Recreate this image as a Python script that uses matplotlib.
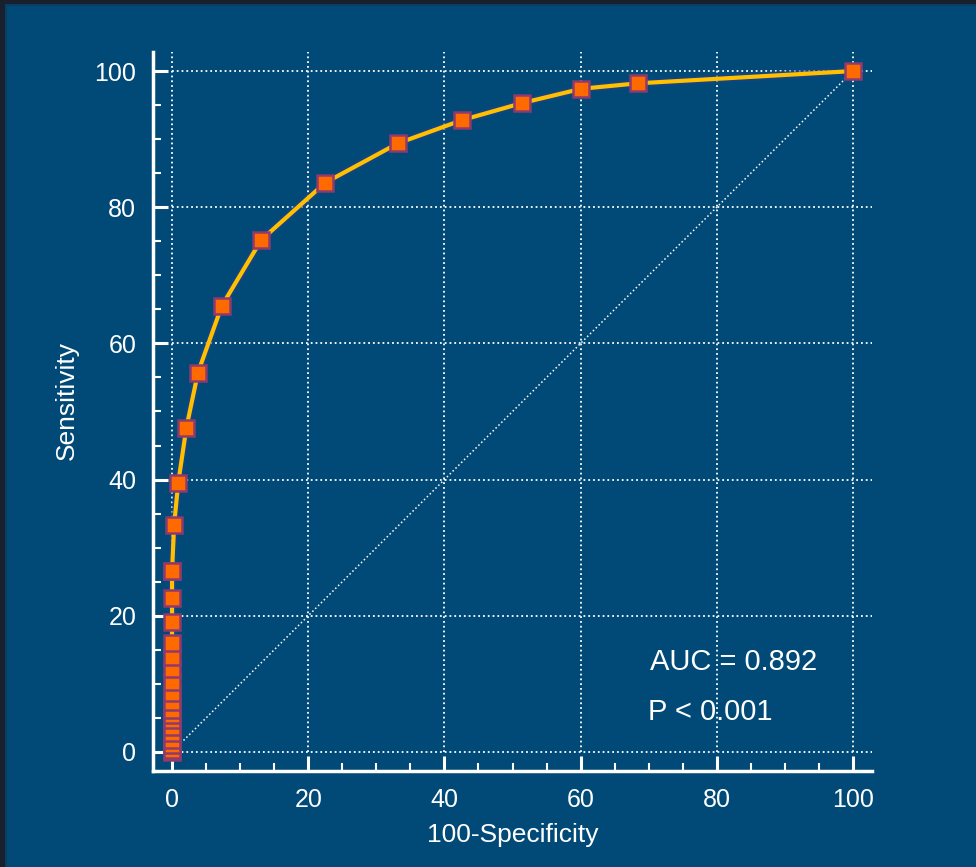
import matplotlib
matplotlib.use('Agg')
import matplotlib.pyplot as plt
from matplotlib.patches import Rectangle
from matplotlib.ticker import MultipleLocator

plt.rcParams['font.family'] = ['Liberation Sans', 'DejaVu Sans']

# ROC points (100-Specificity, Sensitivity)
fpr = [0, 0, 0, 0, 0, 0, 0, 0, 0, 0, 0, 0, 0, 0, 0, 0, 0, 0, 0,
       0.3, 0.9, 2.1, 3.8, 7.3, 13.1, 22.5, 33.2, 42.6, 51.4, 60.1, 68.4, 100]
tpr = [0, 0.3, 1.0, 1.8, 2.8, 3.7, 4.7, 5.4, 6.2, 7.3, 8.7, 10.3, 12.2, 14.0,
       16.0, 19.1, 22.6, 26.6, 26.6,
       33.3, 39.5, 47.6, 55.7, 65.5, 75.2, 83.6, 89.4, 92.8, 95.3, 97.4, 98.2, 100]
auc_text = 'AUC = 0.892'
p_text = 'P < 0.001'

panel = '#014a77'
fig = plt.figure(figsize=(9.76, 8.67), dpi=100, facecolor='#17202c')
fig.add_artist(Rectangle((5/976, 0), 1, 863/867, transform=fig.transFigure,
                         facecolor='#0b3d63', edgecolor='none', zorder=-20))
fig.add_artist(Rectangle((7/976, 0), 1, 861/867, transform=fig.transFigure,
                         facecolor=panel, edgecolor='none', zorder=-19))

ax = fig.add_axes([153/976, 96/867, 719/976, 719/867])
ax.set_facecolor('none')
ax.set_xlim(-2.8, 102.8)
ax.set_ylim(-2.8, 102.8)

# grid lines (dotted) starting at the origin
for v in range(0, 101, 20):
    ax.plot([v, v], [0, 102.8], color='white', ls=':', lw=1.3, zorder=1)
    ax.plot([0, 102.8], [v, v], color='white', ls=':', lw=1.3, zorder=1)
ax.plot([0, 100], [0, 100], color='white', ls=':', lw=1.1, zorder=1)

# ROC curve
ax.plot(fpr, tpr, '-', color='#1f3f8a', lw=6, alpha=0.6, zorder=2)
ax.plot(fpr, tpr, '-', color='#ffc000', lw=3, zorder=3)
ax.plot(fpr, tpr, 's', color='#ff6a00', markersize=12, markeredgecolor='#8e3a6e',
        markeredgewidth=1.8, zorder=4, clip_on=False)

ax.text(70.2, 13.2, auc_text, color='white', fontsize=21, va='center')
ax.text(69.9, 5.9, p_text, color='white', fontsize=21, va='center')

for s in ['top', 'right']:
    ax.spines[s].set_visible(False)
for s in ['left', 'bottom']:
    ax.spines[s].set_color('white')
    ax.spines[s].set_linewidth(2.5)

ax.xaxis.set_major_locator(MultipleLocator(20))
ax.yaxis.set_major_locator(MultipleLocator(20))
ax.xaxis.set_minor_locator(MultipleLocator(5))
ax.yaxis.set_minor_locator(MultipleLocator(5))
ax.tick_params(which='major', direction='in', length=11, width=2.2, colors='white',
               labelsize=18, pad=12)
ax.tick_params(which='minor', direction='in', length=6, width=1.5, colors='white')

ax.set_xlabel('100-Specificity', color='white', fontsize=19, labelpad=8)
ax.set_ylabel('Sensitivity', color='white', fontsize=19)
ax.yaxis.set_label_coords(-0.103, 0.515)

fig.savefig('out.png', dpi=100, facecolor=fig.get_facecolor())
